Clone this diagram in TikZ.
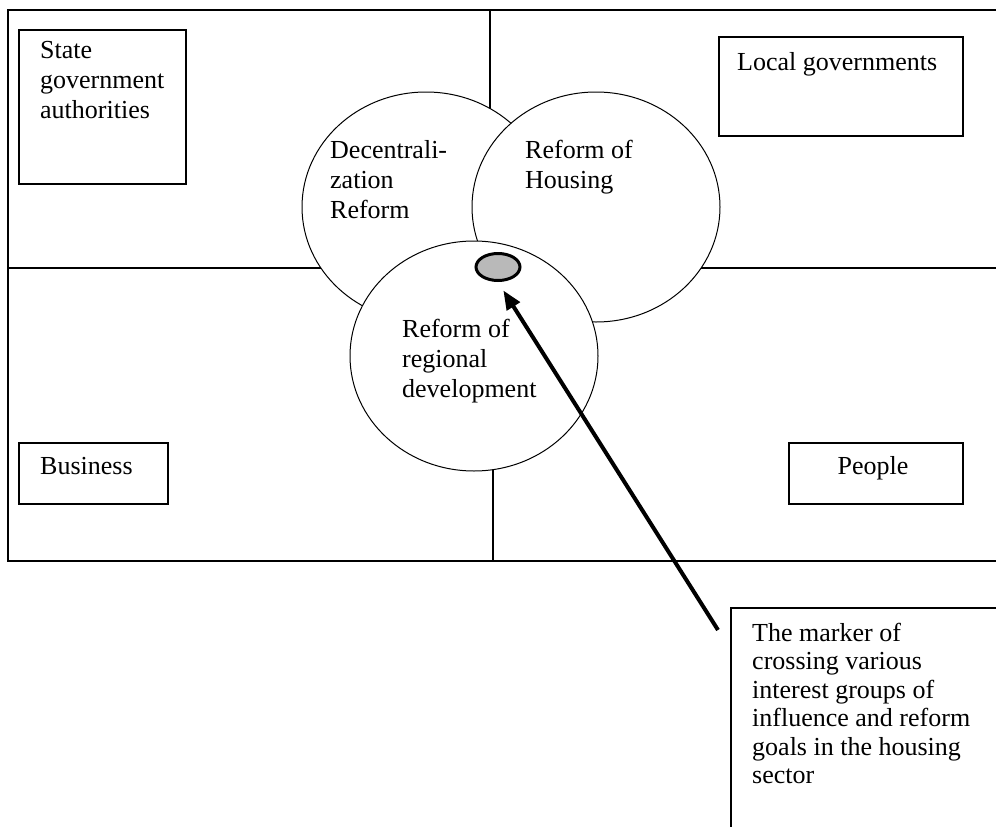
\documentclass[tikz,border=0pt]{standalone}
\usepackage{fontspec}
\setmainfont{Liberation Serif}
\usetikzlibrary{shapes.geometric,arrows.meta}
\begin{document}
\begin{tikzpicture}[x=1pt,y=-1pt,
  frame/.style={line width=2pt},
  boxnode/.style={draw,line width=2pt,inner sep=0,anchor=north west},
  circ/.style={ellipse,draw,line width=1pt,fill=white,inner sep=0,minimum width=248pt,minimum height=230pt},
  txt/.style={inner sep=0,align=left,font=\fontsize{26}{30}\selectfont},
  arr/.style={line width=4pt,-{Triangle[length=19pt,width=15pt]},shorten >=10pt}]
\useasboundingbox (0,0) rectangle (996,827);
\clip (0,0) rectangle (996,827);
\fill[white] (0,0) rectangle (996,827);
% outer frame (open on the right)
\coordinate (otr) at (1002,10);
\coordinate (otl) at (8,10);
\coordinate (obl) at (8,561);
\coordinate (obr) at (1002,561);
\draw[frame] (otr) -- (otl) -- (obl) -- (obr);
% quadrant dividers
\coordinate (hl) at (8,268);
\coordinate (hr) at (1002,268);
\draw[frame] (hl) -- (hr);
\coordinate (vt1) at (490,10);
\coordinate (vt2) at (490,125);
\draw[line width=1.6pt] (vt1) -- (vt2);
\coordinate (vb1) at (493,460);
\coordinate (vb2) at (493,561);
\draw[line width=1.6pt] (vb1) -- (vb2);
% circles
\node[circ] (dec) at (426,207) {};
\node[circ] (hous) at (596,207) {};
\node[circ] (reg) at (474,356) {};
% marker
\node[ellipse,draw,line width=3pt,fill=gray!55,inner sep=0,minimum width=44pt,minimum height=27pt] (marker) at (498,267) {};
% boxes
\node[boxnode,minimum width=167pt,minimum height=154pt] (state) at (18,29) {};
\node[boxnode,minimum width=244pt,minimum height=99pt] (local) at (718,36) {};
\node[boxnode,minimum width=149pt,minimum height=61pt] (business) at (18,442) {};
\node[boxnode,minimum width=174pt,minimum height=61pt] (people) at (788,442) {};
\coordinate (mbr) at (1002,608);
\coordinate (mbt) at (731,608);
\coordinate (mbb) at (731,832);
\draw[line width=2pt] (mbr) -- (mbt) -- (mbb);
% texts
\node[txt,anchor=north west] (tstate) at (40,41) {State\\government\\authorities};
\node[txt,anchor=base west] (tlocal) at (737,70) {Local governments};
\node[txt,anchor=base west] (tbus) at (40,474) {Business};
\node[txt,anchor=base] (tpeople) at (873,474) {People};
\node[txt,anchor=north west] (tdec) at (330,140) {Decentrali-\\zation\\Reform};
\node[txt,anchor=north west] (thous) at (525,140) {Reform of\\Housing};
\node[txt,anchor=north west] (treg) at (402,319) {Reform of\\regional\\development};
\node[txt,anchor=north west,font=\fontsize{26}{28.4}\selectfont] (tmark) at (752,623) {The marker of\\crossing various\\interest groups of\\influence and reform\\goals in the housing\\sector};
% arrow
\coordinate (astart) at (718,630);
\draw[arr] (astart) -- (marker.south);
\end{tikzpicture}
\end{document}
